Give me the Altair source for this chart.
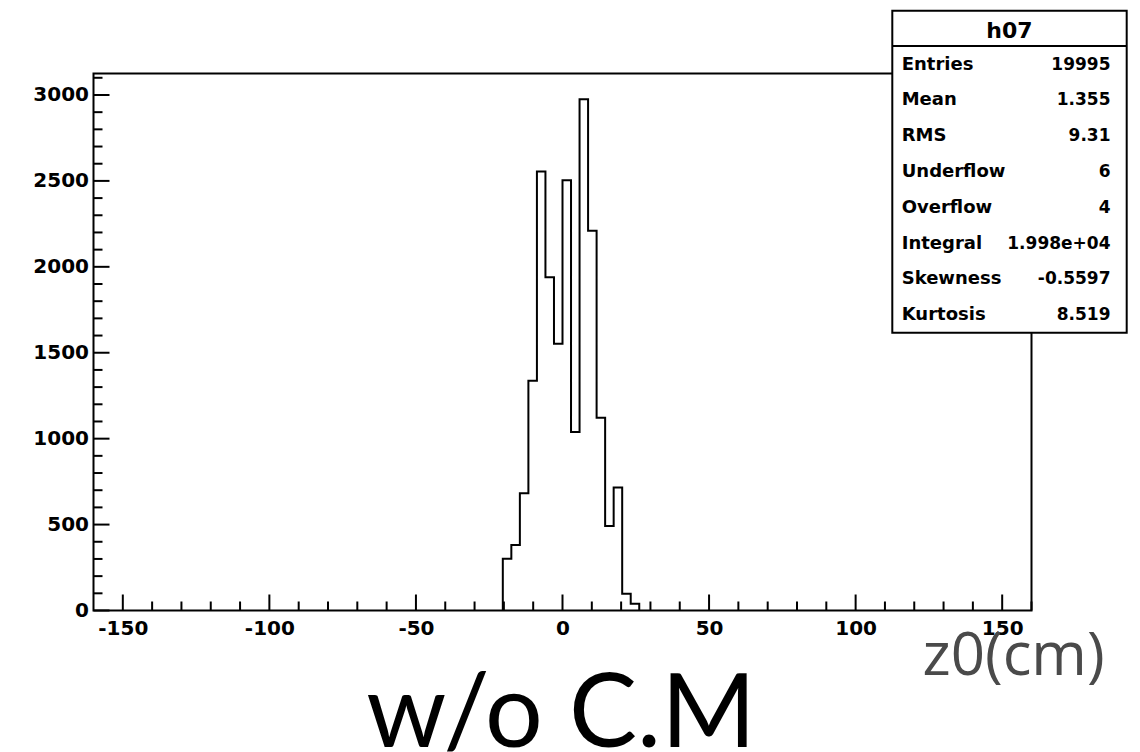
import altair as alt
import pandas as pd

# ---- data ----
X_LO, X_HI, N_BINS = -160.0, 160.0, 110
FIRST_BIN = 48
COUNTS = [301, 381, 682, 1337, 2554, 1939, 1553, 2504, 1039, 2975, 2210, 1122, 492, 716, 97, 39]
Y_MAX = 3125

X_MAJOR = [-150, -100, -50, 0, 50, 100, 150]
X_MINOR = [v for v in range(-150, 161, 10) if v % 50 != 0]
Y_MAJOR = [0, 500, 1000, 1500, 2000, 2500, 3000]
Y_MINOR = [v for v in range(100, 3101, 100) if v % 500 != 0]

STAT_TITLE = "h07"
STAT_NAMES = ["Entries", "Mean", "RMS", "Underflow", "Overflow", "Integral", "Skewness", "Kurtosis"]
STAT_VALUES = ["19995", "1.355", "9.31", "6", "4", "1.998e+04", "-0.5597", "8.519"]

X_TITLE = "z0(cm)"
CAPTION = "w/o C.M"

# ---- build tables ----
bw = (X_HI - X_LO) / N_BINS
edges = [X_LO + (FIRST_BIN + i) * bw for i in range(len(COUNTS) + 1)]
pts_x = [edges[0]] + edges[:-1] + [edges[-1]]
pts_y = [0] + COUNTS + [0]
hist = pd.DataFrame({"x": pts_x, "y": pts_y, "o": list(range(len(pts_x)))})

W, H = 938, 537
LF = "DejaVu Sans"

xscale = alt.Scale(domain=[X_LO, X_HI], nice=False, zero=False)
yscale = alt.Scale(domain=[0, Y_MAX], nice=False, zero=True)
xaxis = alt.Axis(values=X_MAJOR, title=None, grid=False, ticks=False, domain=False,
                 labelExpr="'' + datum.value",
                 labelFont=LF, labelFontSize=20, labelFontWeight="bold", labelColor="black",
                 labelBaseline="alphabetic", labelPadding=24, labelFlush=False, labelOverlap=False)
yaxis = alt.Axis(values=Y_MAJOR, title=None, grid=False, ticks=False, domain=False,
                 labelExpr="'' + datum.value",
                 labelFont=LF, labelFontSize=20, labelFontWeight="bold", labelColor="black",
                 labelBaseline="middle", labelAlign="right", labelPadding=5, labelFlush=False,
                 labelOverlap=False)

line = alt.Chart(hist).mark_line(interpolate="step-after", color="black", strokeWidth=2).encode(
    x=alt.X("x:Q", scale=xscale, axis=xaxis),
    y=alt.Y("y:Q", scale=yscale, axis=yaxis),
    order="o:Q",
)

def xticks(vals, length):
    return alt.Chart(pd.DataFrame({"v": vals})).mark_rule(color="black", strokeWidth=2).encode(
        x=alt.X("v:Q", scale=xscale, axis=xaxis),
        y=alt.value(H), y2=alt.value(H - length))

def yticks(vals, length):
    return alt.Chart(pd.DataFrame({"v": vals})).mark_rule(color="black", strokeWidth=2).encode(
        y=alt.Y("v:Q", scale=yscale, axis=yaxis),
        x=alt.value(0), x2=alt.value(length))

one = pd.DataFrame({"a": [0]})
BX0, BX1, BY0, BY1 = 798.8, 1033.2, -62.8, 259.2
box = alt.Chart(one).mark_rect(fill="white", stroke="black", strokeWidth=2).encode(
    x=alt.value(BX0), x2=alt.value(BX1), y=alt.value(BY0), y2=alt.value(BY1))
sep = alt.Chart(one).mark_rule(color="black", strokeWidth=2).encode(
    x=alt.value(BX0), x2=alt.value(BX1), y=alt.value(-27.5))
title = alt.Chart(pd.DataFrame({"t": [STAT_TITLE]})).mark_text(
    font=LF, fontSize=22, fontWeight="bold", color="black", align="center", baseline="alphabetic"
).encode(text="t:N", x=alt.value((BX0 + BX1) / 2), y=alt.value(-35.2))

stats = pd.DataFrame({"name": STAT_NAMES, "val": STAT_VALUES, "i": list(range(len(STAT_NAMES)))})
names = alt.Chart(stats).transform_calculate(py="-4.0 + datum.i * 35.8").mark_text(
    font=LF, fontSize=18, fontWeight="bold", color="black", align="left", baseline="alphabetic"
).encode(text="name:N", x=alt.value(808.2), y=alt.Y("py:Q", scale=None, axis=None))
vals = alt.Chart(stats).transform_calculate(py="-4.0 + datum.i * 35.8").mark_text(
    font=LF, fontSize=17, fontWeight="bold", color="black", align="right", baseline="alphabetic"
).encode(text="val:N", x=alt.value(1017), y=alt.Y("py:Q", scale=None, axis=None))

xt = alt.Chart(pd.DataFrame({"t": [X_TITLE]})).mark_text(
    font="Open Sans", fontSize=60, color="#4a4a4a", align="left", baseline="alphabetic"
).encode(text="t:N", x=alt.value(829), y=alt.value(601.5))
cap = alt.Chart(pd.DataFrame({"t": [CAPTION]})).mark_text(
    font="Lato", fontSize=102, color="black", align="center", baseline="alphabetic"
).encode(text="t:N", x=alt.value(467.5), y=alt.value(673))

chart = alt.layer(
    xticks(X_MINOR, 9), xticks(X_MAJOR, 16), yticks(Y_MINOR, 9), yticks(Y_MAJOR, 16),
    line, box, sep, title, names, vals, xt, cap
).properties(
    width=W, height=H, autosize="none",
    padding={"left": 85.5, "top": 65.5, "right": 100.5, "bottom": 141.5},
    background="white",
).configure_view(stroke="black", strokeWidth=2)

chart.save("out.html", embed_options={"renderer": "svg", "actions": False})
